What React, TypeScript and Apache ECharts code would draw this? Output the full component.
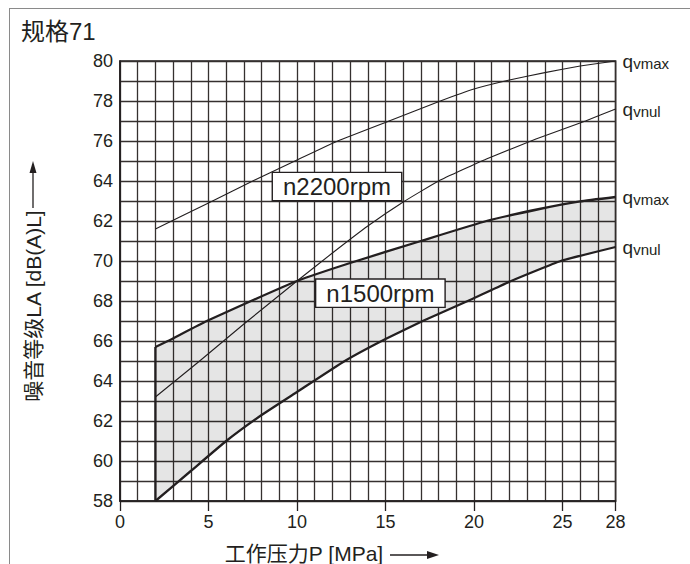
import React, { useEffect, useRef } from "react";
import * as echarts from "echarts";

// Tick labels (as printed on the original chart)
const xTickLabels = [0, 5, 10, 15, 20, 25, 28];
const yTickLabels = ["58", "60", "62", "64", "66", "68", "70", "62", "64", "76", "78", "80"];

// n = 2200 rpm curves (thin)
const n2200QvMax: number[][] = [
  [2, 71.6], [5, 72.9], [7.5, 74], [10, 75.05], [12.3, 76], [15.2, 77],
  [18.1, 78], [20, 78.6], [22, 79.05], [24, 79.42], [26, 79.75], [28, 80],
];
const n2200QvNul: number[][] = [
  [2, 63.2], [4.5, 65], [7, 66.85], [10, 69], [12, 70.4], [14, 71.75],
  [16, 72.95], [18, 74], [20.7, 75.1], [23.5, 76.1], [26.3, 77], [28, 77.6],
];

// n = 1500 rpm curves (thick, band filled)
const n1500QvMax: number[][] = [
  [2, 65.7], [2.7, 66], [4.9, 67], [7.4, 68], [10, 69], [13, 69.9],
  [17, 71], [20.7, 72], [23.7, 72.6], [26, 72.98], [28, 73.2],
];
const n1500QvNul: number[][] = [
  [2, 58], [4, 59.5], [6, 61], [8, 62.3], [10, 63.45], [12.7, 65], [15, 66.1],
  [17.1, 67], [19.9, 68.1], [22.1, 69], [24.9, 70], [28, 70.7],
];

const rpmLabels = [
  { text: "n2200rpm", at: [12.26, 73.72] },
  { text: "n1500rpm", at: [14.71, 68.39] },
];

const LATIN = "'Liberation Sans', Arial, Helvetica, sans-serif";
const CJK = "'Liberation Sans', 'Noto Sans CJK SC', sans-serif";
const INK = "#231f20";
const GRIDC = "#35302f";

export default function App() {
  const ref = useRef<HTMLDivElement>(null);
  useEffect(() => {
    if (!ref.current) return;
    const chart = echarts.init(ref.current, undefined, { renderer: "svg" });

    const endLabel = (sub: string) => ({
      show: true,
      distance: 7,
      formatter: `{q|q}{s|${sub}}`,
      rich: {
        q: { fontSize: 19, fontFamily: LATIN, color: INK, verticalAlign: "bottom", lineHeight: 19 },
        s: { fontSize: 15, fontFamily: LATIN, color: INK, verticalAlign: "bottom", lineHeight: 17 },
      },
    });

    const boxLabel = {
      show: true,
      position: "inside",
      fontSize: 24,
      fontFamily: LATIN,
      color: INK,
      backgroundColor: "#ffffff",
      borderColor: INK,
      borderWidth: 1.4,
      padding: [2, 10, 1, 10],
      lineHeight: 24,
    };
    const markFor = (i: number) => ({
      symbol: "rect",
      symbolSize: 1,
      itemStyle: { color: "rgba(0,0,0,0)" },
      label: { ...boxLabel, formatter: rpmLabels[i].text },
      data: [{ coord: rpmLabels[i].at }],
    });

    const lineBase = (data: number[][], width: number) => ({
      type: "line",
      data,
      symbol: "none",
      smooth: 0.12,
      xAxisIndex: 0,
      yAxisIndex: 0,
      lineStyle: { color: INK, width, join: "round" },
      itemStyle: { color: INK },
    });

    chart.setOption({
      animation: false,
      backgroundColor: "#ffffff",
      grid: {
        left: 120,
        top: 61,
        width: 495.6,
        height: 440,
        show: true,
        borderColor: INK,
        borderWidth: 1.6,
      },
      xAxis: [
        {
          type: "value",
          min: 0,
          max: 28,
          interval: 1,
          position: "bottom",
          axisLine: { show: false },
          axisTick: { show: false },
          axisLabel: { show: false },
          splitLine: { show: true, lineStyle: { color: GRIDC, width: 1.3 } },
        },
        {
          type: "value",
          min: 0,
          max: 28,
          interval: 5,
          position: "bottom",
          axisLine: { show: true, lineStyle: { color: INK, width: 1.6 } },
          axisTick: { show: true, length: 10, lineStyle: { color: INK, width: 1.3 } },
          axisLabel: {
            show: true,
            margin: 12,
            fontSize: 18,
            fontFamily: LATIN,
            color: INK,
            formatter: (v: number) => (xTickLabels.includes(v) ? String(v) : ""),
          },
          splitLine: { show: false },
        },
      ],
      yAxis: {
        type: "value",
        min: 58,
        max: 80,
        interval: 1,
        axisLine: { show: true, lineStyle: { color: INK, width: 1.6 } },
        axisTick: { show: false },
        axisLabel: {
          margin: 7,
          fontSize: 18,
          fontFamily: LATIN,
          color: INK,
          formatter: (v: number) => {
            const k = Math.round(v - 58);
            return k % 2 === 0 ? yTickLabels[k / 2] : "";
          },
        },
        splitLine: { show: true, lineStyle: { color: GRIDC, width: 1.3 } },
      },
      series: [
        {
          type: "custom",
          xAxisIndex: 0,
          yAxisIndex: 0,
          data: [n1500QvNul[0]],
          z: 1,
          renderItem: (params: any, api: any) => {
            const poly = [...n1500QvMax, ...n1500QvNul.slice().reverse()].map((p) =>
              api.coord(p)
            );
            return {
              type: "polygon",
              shape: { points: poly },
              style: { fill: "rgba(0,0,0,0.1)", stroke: "none" },
            };
          },
        },
        { ...lineBase(n2200QvMax, 1.1), endLabel: endLabel("vmax"), markPoint: markFor(0) },
        { ...lineBase(n2200QvNul, 1.1), endLabel: endLabel("vnul") },
        { ...lineBase(n1500QvMax, 2.3), endLabel: endLabel("vmax"), markPoint: markFor(1) },
        { ...lineBase(n1500QvNul, 2.3), endLabel: endLabel("vnul") },
        { ...lineBase([n1500QvNul[0], n1500QvMax[0]], 2.3), smooth: false },
      ],
      graphic: [
        // outer frame (top and left)
        { type: "line", shape: { x1: 9, y1: 8.5, x2: 690, y2: 8.5 }, style: { stroke: "#8a8a8a", lineWidth: 1 } },
        { type: "line", shape: { x1: 9.5, y1: 8, x2: 9.5, y2: 564 }, style: { stroke: "#8a8a8a", lineWidth: 1 } },
        // chart title
        {
          type: "text",
          x: 21,
          y: 31,
          style: {
            text: "规格71",
            font: `24px 'Liberation Sans', 'Noto Sans CJK SC', sans-serif`,
            fill: INK,
            textVerticalAlign: "middle",
          },
        },
        // y-axis title
        {
          type: "text",
          x: 33,
          y: 306,
          rotation: Math.PI / 2,
          style: {
            text: "噪音等级LA [dB(A)L]",
            font: `21px ${CJK}`,
            fill: INK,
            textAlign: "center",
            textVerticalAlign: "middle",
          },
        },
        { type: "line", shape: { x1: 33, y1: 208, x2: 33, y2: 170 }, style: { stroke: INK, lineWidth: 1.3 } },
        { type: "polygon", shape: { points: [[33, 161], [29.5, 173], [36.5, 173]] }, style: { fill: INK } },
        // x-axis title
        {
          type: "text",
          x: 304,
          y: 553,
          style: {
            text: "工作压力P [MPa]",
            font: `21px ${CJK}`,
            fill: INK,
            textAlign: "center",
            textVerticalAlign: "middle",
          },
        },
        { type: "line", shape: { x1: 390, y1: 555, x2: 428, y2: 555 }, style: { stroke: INK, lineWidth: 1.3 } },
        { type: "polygon", shape: { points: [[439, 555], [427, 551], [427, 559]] }, style: { fill: INK } },
      ],
    });
    return () => chart.dispose();
  }, []);
  return (
    <div
      ref={ref}
      style={{ position: "fixed", left: 0, top: 0, width: 690, height: 564, background: "#fff" }}
    />
  );
}
